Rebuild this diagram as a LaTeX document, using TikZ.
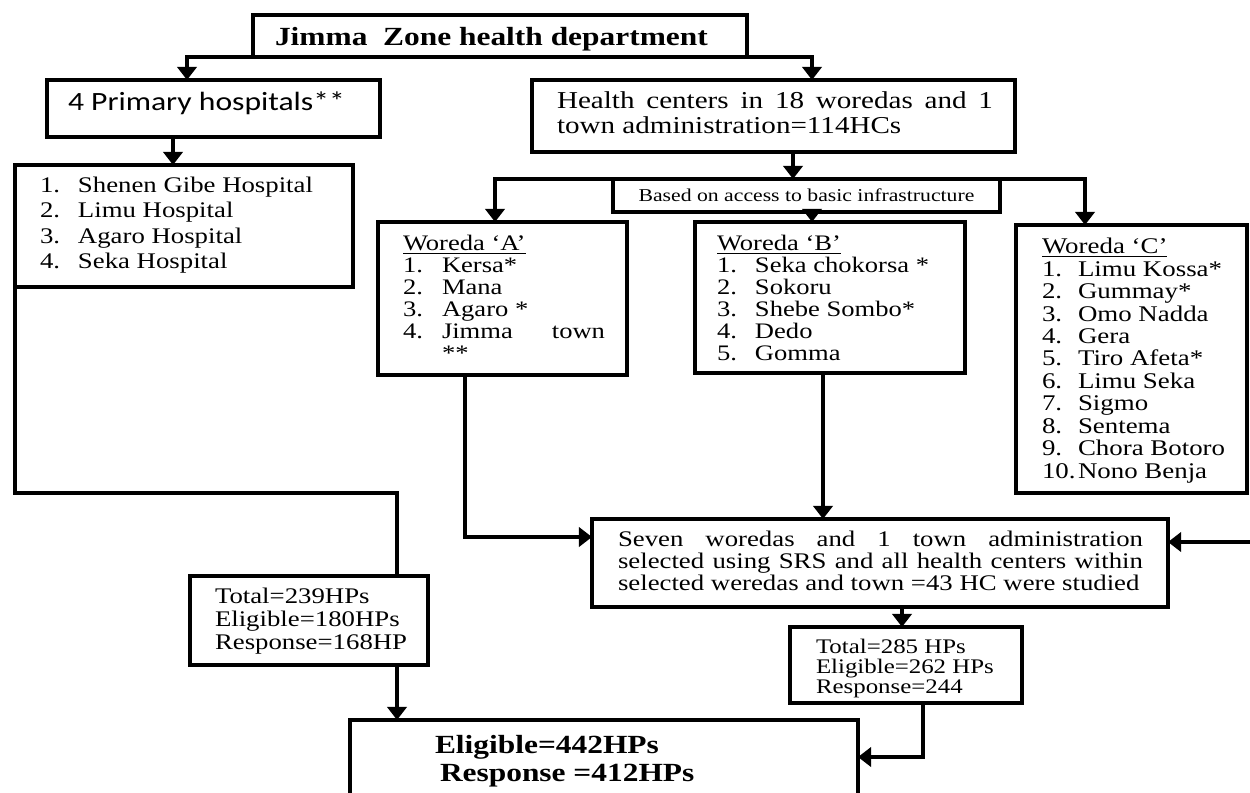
\documentclass[tikz,border=0pt]{standalone}
\usepackage{fontspec}
\setmainfont{Liberation Serif}[FakeStretch=1.2]
\newfontfamily\calibri{Carlito}[FakeStretch=1.2]
\usetikzlibrary{arrows.meta,calc}

\newlength{\pix}
\setlength{\pix}{0.02cm}
\newcommand{\sz}[2]{\fontsize{#1}{#2}\selectfont}
\newcommand{\nr}[2]{\makebox[#1\pix][l]{#2}}
% width, height, top gap, left gap, right gap, text
\newcommand{\panel}[6]{\parbox[c][#2\pix][t]{#1\pix}{\vspace*{#3\pix}\hspace*{#4\pix}%
  \parbox[t]{\dimexpr#1\pix-#4\pix-#5\pix\relax}{\setlength{\lineskiplimit}{-\maxdimen}#6}}}

\begin{document}
\begin{tikzpicture}[x=\pix, y=-\pix,
  box/.style={draw, line width=2.8pt, inner sep=0pt, outer sep=0pt, anchor=north west},
  link/.style={line width=2.7pt},
  arr/.style={link, -{Triangle[width=11pt,length=7.5pt]}}]
%\draw[help lines] (0,0) grid[step=50] (1250,792);
\useasboundingbox (0,0) rectangle (1250,792);

 \node[box] (title) at (253,15) {\panel{494}{42}{12}{22}{10}{\bfseries\sz{14.9}{18}Jimma\ \ Zone health department}};

 \node[box] (prim) at (47,80) {\panel{333}{57}{12}{21}{10}{\calibri\sz{15}{18}4 Primary hospitals**}};

 \node[box] (list) at (15,165) {\panel{338}{122}{12}{25}{10}{\sz{12.7}{14.5}%
  \nr{38}{1.}Shenen Gibe Hospital\\ \nr{38}{2.}Limu Hospital\\
  \nr{38}{3.}Agaro Hospital\\ \nr{38}{4.}Seka Hospital}};

 \node[box] (health) at (532,80) {\panel{483}{72}{11.5}{25}{22}{\sz{13.8}{14.2}%
  \makebox[\linewidth][s]{Health centers in 18 woredas and 1}\\ town administration=114HCs}};

 \node[box] (based) at (613,179) {\parbox[c][33\pix][c]{387\pix}{\centering\sz{10.3}{12}Based on access to basic infrastructure}};

 \node[box] (wa) at (378,222) {\panel{249}{153}{13}{25}{22}{\sz{12.6}{12.5}%
  \underline{Woreda `A'}\\ \nr{39}{1.}Kersa*\\ \nr{39}{2.}Mana\\ \nr{39}{3.}Agaro *\\
  \nr{39}{4.}Jimma\hfill town\\ \hspace*{39\pix}**}};

 \node[box] (wb) at (695,222) {\panel{270}{151}{13}{22}{20}{\sz{12.6}{12.5}%
  \underline{Woreda `B'}\\ \nr{38}{1.}Seka chokorsa *\\ \nr{38}{2.}Sokoru\\
  \nr{38}{3.}Shebe Sombo*\\ \nr{38}{4.}Dedo\\ \nr{38}{5.}Gomma}};

 \node[box] (wc) at (1016,225) {\panel{231}{268}{13}{26}{5}{\sz{12.75}{12.8}%
  \underline{Woreda `C'}\\ \nr{36}{1.}Limu Kossa*\\ \nr{36}{2.}Gummay*\\
  \nr{36}{3.}Omo Nadda\\ \nr{36}{4.}Gera\\ \nr{36}{5.}Tiro Afeta*\\
  \nr{36}{6.}Limu Seka\\ \nr{36}{7.}Sigmo\\ \nr{36}{8.}Sentema\\
  \nr{36}{9.}Chora Botoro\\ \nr{36}{10.}Nono Benja}};

 \node[box] (seven) at (592,519) {\panel{576}{88}{12}{26}{25}{\sz{12.7}{12.5}%
  \makebox[\linewidth][s]{Seven woredas and 1 town administration}\\
  \makebox[\linewidth][s]{selected using SRS and all health centers within}\\
  selected weredas and town =43 HC were studied}};

 \node[box] (t239) at (190,576) {\panel{238}{89}{12}{25}{8}{\sz{12.7}{13}%
  Total=239HPs\\ Eligible=180HPs\\ Response=168HP}};

 \node[box] (t285) at (790,627) {\panel{232}{76}{12}{26}{8}{\sz{11.8}{11.4}%
  Total=285 HPs\\ Eligible=262 HPs\\ Response=244}};

 \node[box] (final) at (350,720) {\panel{508}{85}{15}{85}{10}{\bfseries\sz{14.9}{16}%
  Eligible=442HPs\\ \hspace*{5\pix}Response =412HPs}};

 \coordinate (cside) at (1252,542);

 % connectors
 \draw[arr] (title.south west) -| ($(prim.north west)+(140,0)$);
 \draw[arr] (title.south east) -| ($(health.north west)+(280,0)$);
 \draw[arr] ($(prim.south west)+(126,0)$) -- ($(list.north west)+(158,0)$);
 \draw[link] (list.south west) |- ($(t239.north west)+(207,-83)$) -- ($(t239.north west)+(207,0)$);
 \draw[arr] ($(t239.south west)+(207,0)$) coordinate (q1) -- (q1 |- final.north);

 \draw[arr] ($(health.south west)+(261,0)$) coordinate (q2) -- (q2 |- based.north);
 \draw[arr] (based.north west) -| ($(wa.north west)+(117,0)$);
 \draw[arr] (based.north east) -| ($(wc.north west)+(69,0)$);
 \draw[arr] ($(wb.north west)+(117,0)$) coordinate (q3) (q3 |- based.south) -- (q3);

 \draw[arr] ($(wa.south west)+(87,0)$) |- ($(seven.north west)+(0,18)$);
 \draw[arr] ($(wb.south west)+(128,0)$) coordinate (q4) -- (q4 |- seven.north);
 \draw[arr] (cside) -- (cside -| seven.east);

 \draw[arr] ($(seven.south west)+(310,0)$) coordinate (q5) -- (q5 |- t285.north);
 \draw[arr] ($(t285.south west)+(133,0)$) |- ($(final.north east)+(0,37)$);

\end{tikzpicture}
\end{document}
